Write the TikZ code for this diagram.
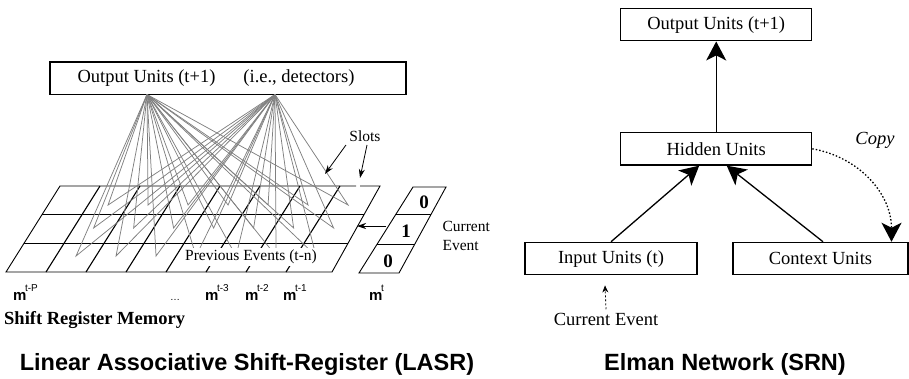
\documentclass[tikz,border=0pt]{standalone}
\usepackage{fontspec}
\setmainfont{Liberation Serif}
\newfontfamily\sansfnt{Liberation Sans}
\usepackage{tikz}
\usetikzlibrary{arrows.meta,calc,positioning}

\newcommand{\memlab}[1]{{\sansfnt\bfseries\fontsize{15}{15}\selectfont m}\hspace{-1.5pt}\raisebox{9pt}{\sansfnt\fontsize{10}{10}\selectfont #1}}

\begin{document}
\begin{tikzpicture}[x=1pt,y=-1pt,
  unitbox/.style={draw, line width=1.2pt, minimum height=32.5pt, inner sep=0pt, font=\fontsize{18.5}{20}\selectfont},
  small/.style={font=\fontsize{15.5}{19}\selectfont},
  big/.style={font=\fontsize{18.5}{20}\selectfont},
  bit/.style={font=\bfseries\fontsize{19}{19}\selectfont},
  title/.style={font=\sansfnt\bfseries\fontsize{23.5}{26}\selectfont, anchor=base},
  memnode/.style={anchor=base west, inner sep=0pt},
  gridline/.style={line width=0.9pt},
  slotline/.style={line width=1.1pt},
  fanline/.style={gray, line width=0.75pt},
  thinarrow/.style={line width=0.8pt, -{Stealth[length=9pt,width=6pt]}},
  bigarrow/.style={line width=1.3pt, -{Stealth[length=19pt,width=20pt,inset=5pt]}}
]
\useasboundingbox (0,0) rectangle (909,378);

% Linear associative shift register
\node[unitbox, minimum width=356pt] (outL) at (228,78.3) {Output Units (t+1)\hspace{28pt}(i.e., detectors)\kern24pt};
\coordinate (srcA) at (147,94.5);
\coordinate (srcB) at (275,94.5);

\coordinate (gTL) at (60,186);
\coordinate (gTR) at (380,186);
\coordinate (gBL) at (6,272);
\coordinate (gBR) at (332,272);
\draw[gridline] (356,186) -- (gTL) -- (gBL) -- (gBR) -- (gTR) -- (360,186);
\draw[gridline] ($(gTL)!0.326!(gBL)$) -- ($(gTR)!0.326!(gBR)$)
                ($(gTL)!0.663!(gBL)$) -- ($(gTR)!0.663!(gBR)$);
\foreach \i in {1,...,7}
  \draw[slotline] (60+40*\i,186) -- (6+40*\i,272);

% every slot feeds both detectors
\foreach \c in {1,...,7}
  \foreach \y in {205,228,256} {
    \pgfmathsetmacro{\xv}{80-(\y-186)*0.628+40*\c}
    \draw[fanline] (srcA) -- (\xv,\y) -- (srcB);
  }

\node[small, fill=white, inner sep=2pt] (prev) at (251,257) {Previous Events (t-n)};

\node[small] (slots) at (365,136) {Slots};
\coordinate (slotA) at (325,174);
\coordinate (slotB) at (360,178);
\draw[thinarrow] (slots.south west) -- (slotA);
\draw[thinarrow] ([xshift=2pt]slots.south) -- (slotB);

% current event column
\coordinate (cTL) at (413,187);
\coordinate (cTR) at (446,187);
\coordinate (cBL) at (359,273);
\coordinate (cBR) at (399,273);
\draw[gridline] (cTL) -- (cTR) -- (cBR) -- (cBL) -- cycle;
\draw[gridline] ($(cTL)!0.314!(cBL)$) -- ($(cTR)!0.314!(cBR)$)
                ($(cTL)!0.663!(cBL)$) -- ($(cTR)!0.663!(cBR)$);
\node[bit] (bitA) at (424,202) {0};
\node[bit] (bitB) at (406,231) {1};
\node[bit] (bitC) at (388,261) {0};
\node[small, align=left, anchor=west] (cur) at (439,236) {Current\\Event};
\coordinate (colL) at (386,226);
\coordinate (gridR) at (357,226);
\draw[thinarrow] (colL) -- (gridR);

\node[memnode] (mP) at (13,300) {\memlab{t-P}};
\node[memnode] (dots) at (170,300) {\sansfnt\fontsize{10}{10}\selectfont\dots};
\node[memnode] (m3) at (205,300) {\memlab{t-3}};
\node[memnode] (m2) at (245,300) {\memlab{t-2}};
\node[memnode] (m1) at (283,300) {\memlab{t-1}};
\node[memnode] (m0) at (369,300) {\memlab{t}};

\node[anchor=west, inner sep=0pt, font=\bfseries\fontsize{18.5}{20}\selectfont] (srm) at (4,320) {Shift Register Memory};
\node[title] (lasr) at (247,370) {Linear Associative Shift-Register (LASR)};

% Elman network
\node[unitbox, minimum width=191pt] (outR) at (716.2,24.6) {Output Units (t+1)};
\node[unitbox, minimum width=191pt] (hid) at (716.2,148.8) {Hidden Units};
\node[unitbox, minimum width=172pt] (inp) at (611,258.6) {Input Units (t)};
\node[unitbox, minimum width=175pt] (ctx) at (820.5,258.6) {Context Units};

\draw[bigarrow] (hid) -- (outR);
\draw[bigarrow] (inp.north) -- ([xshift=-17pt]hid.south);
\draw[bigarrow] ([xshift=2.5pt]ctx.north) -- ([xshift=10.5pt]hid.south);
\draw[bigarrow, dash pattern=on 1.5pt off 2pt] (hid.east) to[out=-10,in=90] ([xshift=71pt]ctx.north);
\node[font=\itshape\fontsize{18.5}{20}\selectfont] (copy) at (875,140) {Copy};

\node[big] (curR) at (606,319) {Current Event};
\draw[line width=0.8pt, dash pattern=on 2pt off 2pt, -{Stealth[length=7pt,width=6pt]}] (curR.north) -- ([xshift=-6pt,yshift=-10pt]inp.south);

\node[title] (srn) at (725,370) {Elman Network (SRN)};
\end{tikzpicture}
\end{document}
